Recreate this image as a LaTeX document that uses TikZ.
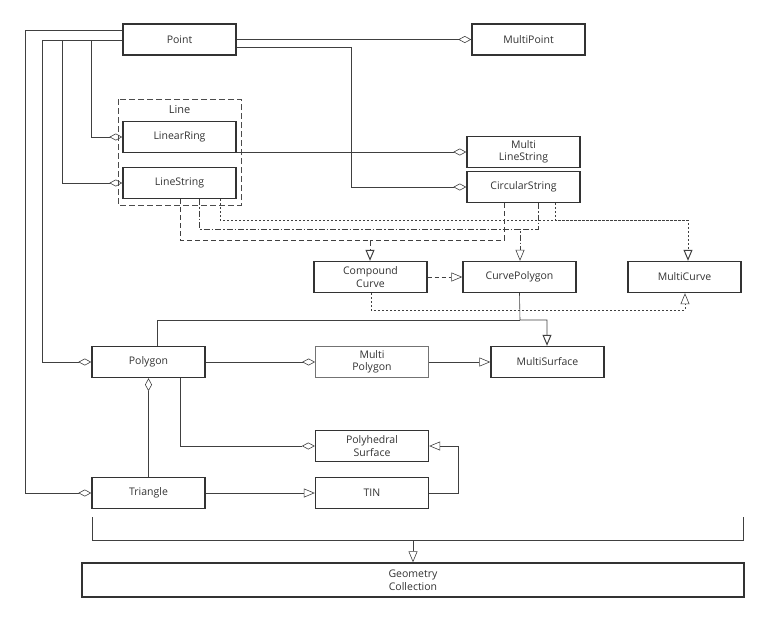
\documentclass[tikz,border=0pt]{standalone}
\usepackage{fontspec}
\setmainfont{Open Sans}
\usetikzlibrary{arrows.meta}
\begin{document}
\begin{tikzpicture}[x=1pt,y=-1pt,
  box/.style={draw=black!80,line width=1.4pt,fill=white,minimum width=113pt,minimum height=31pt,inner sep=1pt,align=center,font=\fontsize{10.5}{12.5}\selectfont,text=black!80},
  thin/.style={draw=black!55,line width=0.8pt},
  con/.style={draw=black!75,line width=0.6pt},
  agg/.style={con,-{Diamond[open,length=13pt,width=7pt]}},
  gen/.style={con,-{Triangle[open,length=11pt,width=9pt]}},
  genn/.style={con,-{Triangle[open,length=11pt,width=9pt,line width=1pt]}}]
\useasboundingbox (0,0) rectangle (769,622);
\draw[dashed,black!70,line width=0.7pt,dash pattern=on 6pt off 3pt] (118,99) rectangle (241,205);
\node[font=\fontsize{11}{13}\selectfont,text=black!80] (linelbl) at (179.5,110) {Line};
\node[box] (point) at (179.5,39.5) {Point};
\node[box] (mpoint) at (528.5,39.5) {MultiPoint};
\node[box] (lring) at (179.5,137) {LinearRing};
\node[box] (lstr) at (179.5,183) {LineString};
\node[box] (mls) at (523.5,152) {Multi\\LineString};
\node[box] (circ) at (523.5,187) {CircularString};
\node[box] (cc) at (370.5,277) {Compound\\Curve};
\node[box] (cp) at (519.5,277) {CurvePolygon};
\node[box] (mc) at (684.5,277) {MultiCurve};
\node[box] (poly) at (148.5,362) {Polygon};
\node[box,thin] (mpoly) at (372,362) {Multi\\Polygon};
\node[box] (msurf) at (547.5,362) {MultiSurface};
\node[box] (phs) at (372,446) {Polyhedral\\Surface};
\node[box] (tri) at (148.5,493) {Triangle};
\node[box] (tin) at (372,493) {TIN};
\node[box,minimum width=662pt,minimum height=34pt] (gc) at (413,580) {Geometry\\Collection};
% Point aggregations
\draw[agg] (point.west |- 0,30) -- (25,30) -- (25,493) -- (tri.west);
\draw[agg] (point.west |- 0,40) -- (42,40) -- (42,362) -- (poly.west);
\draw[agg] (62,40) -- (62,183) -- (lstr.west);
\draw[agg] (91,40) -- (91,137) -- (lring.west);
\draw[agg] (point.east) -- (mpoint.west);
\draw[agg] (point.east |- 0,47) -- (351,47) -- (351,187) -- (circ.west);
\draw[agg] (lring.east |- 0,152) -- (mls.west);
% Line -> curves
\draw[con,dash pattern=on 5pt off 3pt,-{Triangle[open,length=11pt,width=9pt,line width=1pt]}] (lstr.south -| 180,0) -- (180,240) -- (370,240) -- (cc.north -| 370,0);
\draw[con,dash pattern=on 5pt off 3pt] (circ.south -| 504,0) -- (504,240) -- (370,240);
\draw[con,dash pattern=on 6pt off 2pt on 1.5pt off 2pt,-{Triangle[open,length=11pt,width=9pt]}] (lstr.south -| 199,0) -- (199,229) -- (520,229) -- (cp.north -| 520,0);
\draw[con,dash pattern=on 6pt off 2pt on 1.5pt off 2pt] (circ.south -| 538,0) -- (538,229) -- (520,229);
\draw[con,dash pattern=on 2pt off 2pt,-{Triangle[open,length=11pt,width=9pt,line width=1pt]}] (lstr.south -| 220,0) -- (220,220) -- (688,220) -- (mc.north -| 688,0);
\draw[con,dash pattern=on 2pt off 2pt] (circ.south -| 555,0) -- (555,220) -- (688,220);
\draw[con,dash pattern=on 4pt off 3pt,-{Triangle[open,length=11pt,width=9pt]}] (cc.east) -- (cp.west);
\draw[con,dash pattern=on 2pt off 2pt,-{Triangle[open,length=11pt,width=9pt]}] (cc.south -| 371,0) -- (371,310) -- (685,310) -- (mc.south -| 685,0);
\draw[genn] (cp.south) -- (520,320) -- (547,320) -- (msurf.north -| 547,0);
\draw[con] (poly.north -| 157,0) -- (157,320) -- (520,320);
% Polygon relations
\draw[agg] (poly.east) -- (mpoly.west);
\draw[gen] (mpoly.east) -- (msurf.west);
\draw[agg] (poly.south -| 180,0) -- (180,446) -- (phs.west);
\draw[agg] (tri.north) -- (poly.south);
\draw[gen] (tri.east) -- (tin.west);
\draw[gen] (tin.east) -- (458,493) -- (458,446) -- (phs.east);
% Collection
\coordinate (bl) at (92,517);
\coordinate (br) at (743,517);
\draw[con] (bl) -- (92,540) -- (743,540) -- (br);
\draw[gen] (413,540) -- (gc.north -| 413,0);
\end{tikzpicture}
\end{document}
